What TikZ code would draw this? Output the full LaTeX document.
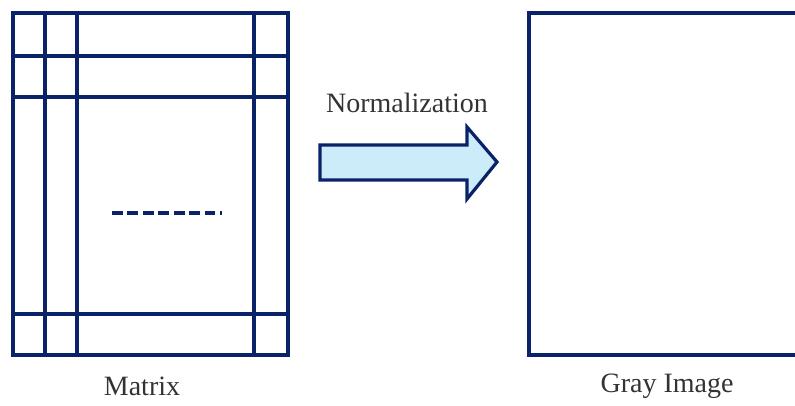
\documentclass[tikz,border=0pt]{standalone}
\usepackage{fontspec}
\setmainfont{Liberation Serif}
\usetikzlibrary{positioning}
\definecolor{navy}{RGB}{10,34,104}
\definecolor{arrowfill}{RGB}{205,236,250}

\begin{document}
\begin{tikzpicture}[x=0.75pt,y=-0.75pt,
  gridline/.style={navy,line width=2.6pt},
  caption/.style={font=\fontsize{21}{24}\selectfont,text=black!80}]
\clip (0,0) rectangle (795,406);
        % matrix with its cells
\node[rectangle,draw=navy,line width=2.8pt,minimum width=206.25pt,minimum height=256.5pt,inner sep=0pt] (mat) at (150.5,184) {};
\foreach \gx in {34,66,243}
  \draw[gridline] (mat.north west) ++(\gx,0) -- ++(0,342);
\foreach \gy in {45,86,303}
  \draw[gridline] (mat.north west) ++(0,\gy) -- ++(275,0);
\draw[navy,line width=2.6pt,dash pattern=on 8pt off 3.6pt] (112,213) -- (222,213);
\node[caption] (matlabel) at (142,386) {Matrix};

        % output image
\node[rectangle,draw=navy,line width=3.2pt,minimum width=211.5pt,minimum height=256.5pt,inner sep=0pt] (img) at (670,184) {};
\node[caption] (imglabel) at (667,386) {Gray Image};

        % normalization arrow
\coordinate (tail) at (320,162);
\draw[navy,line width=2.4pt,fill=arrowfill,line join=miter]
  (tail) ++(0,-17) -- ++(147,0) -- ++(0,-18) -- ++(30,35) -- ++(-30,37) -- ++(0,-19) -- ++(-147,0) -- cycle;
\node[caption] (normlabel) at (407,103) {Normalization};
    \end{tikzpicture}
\end{document}
